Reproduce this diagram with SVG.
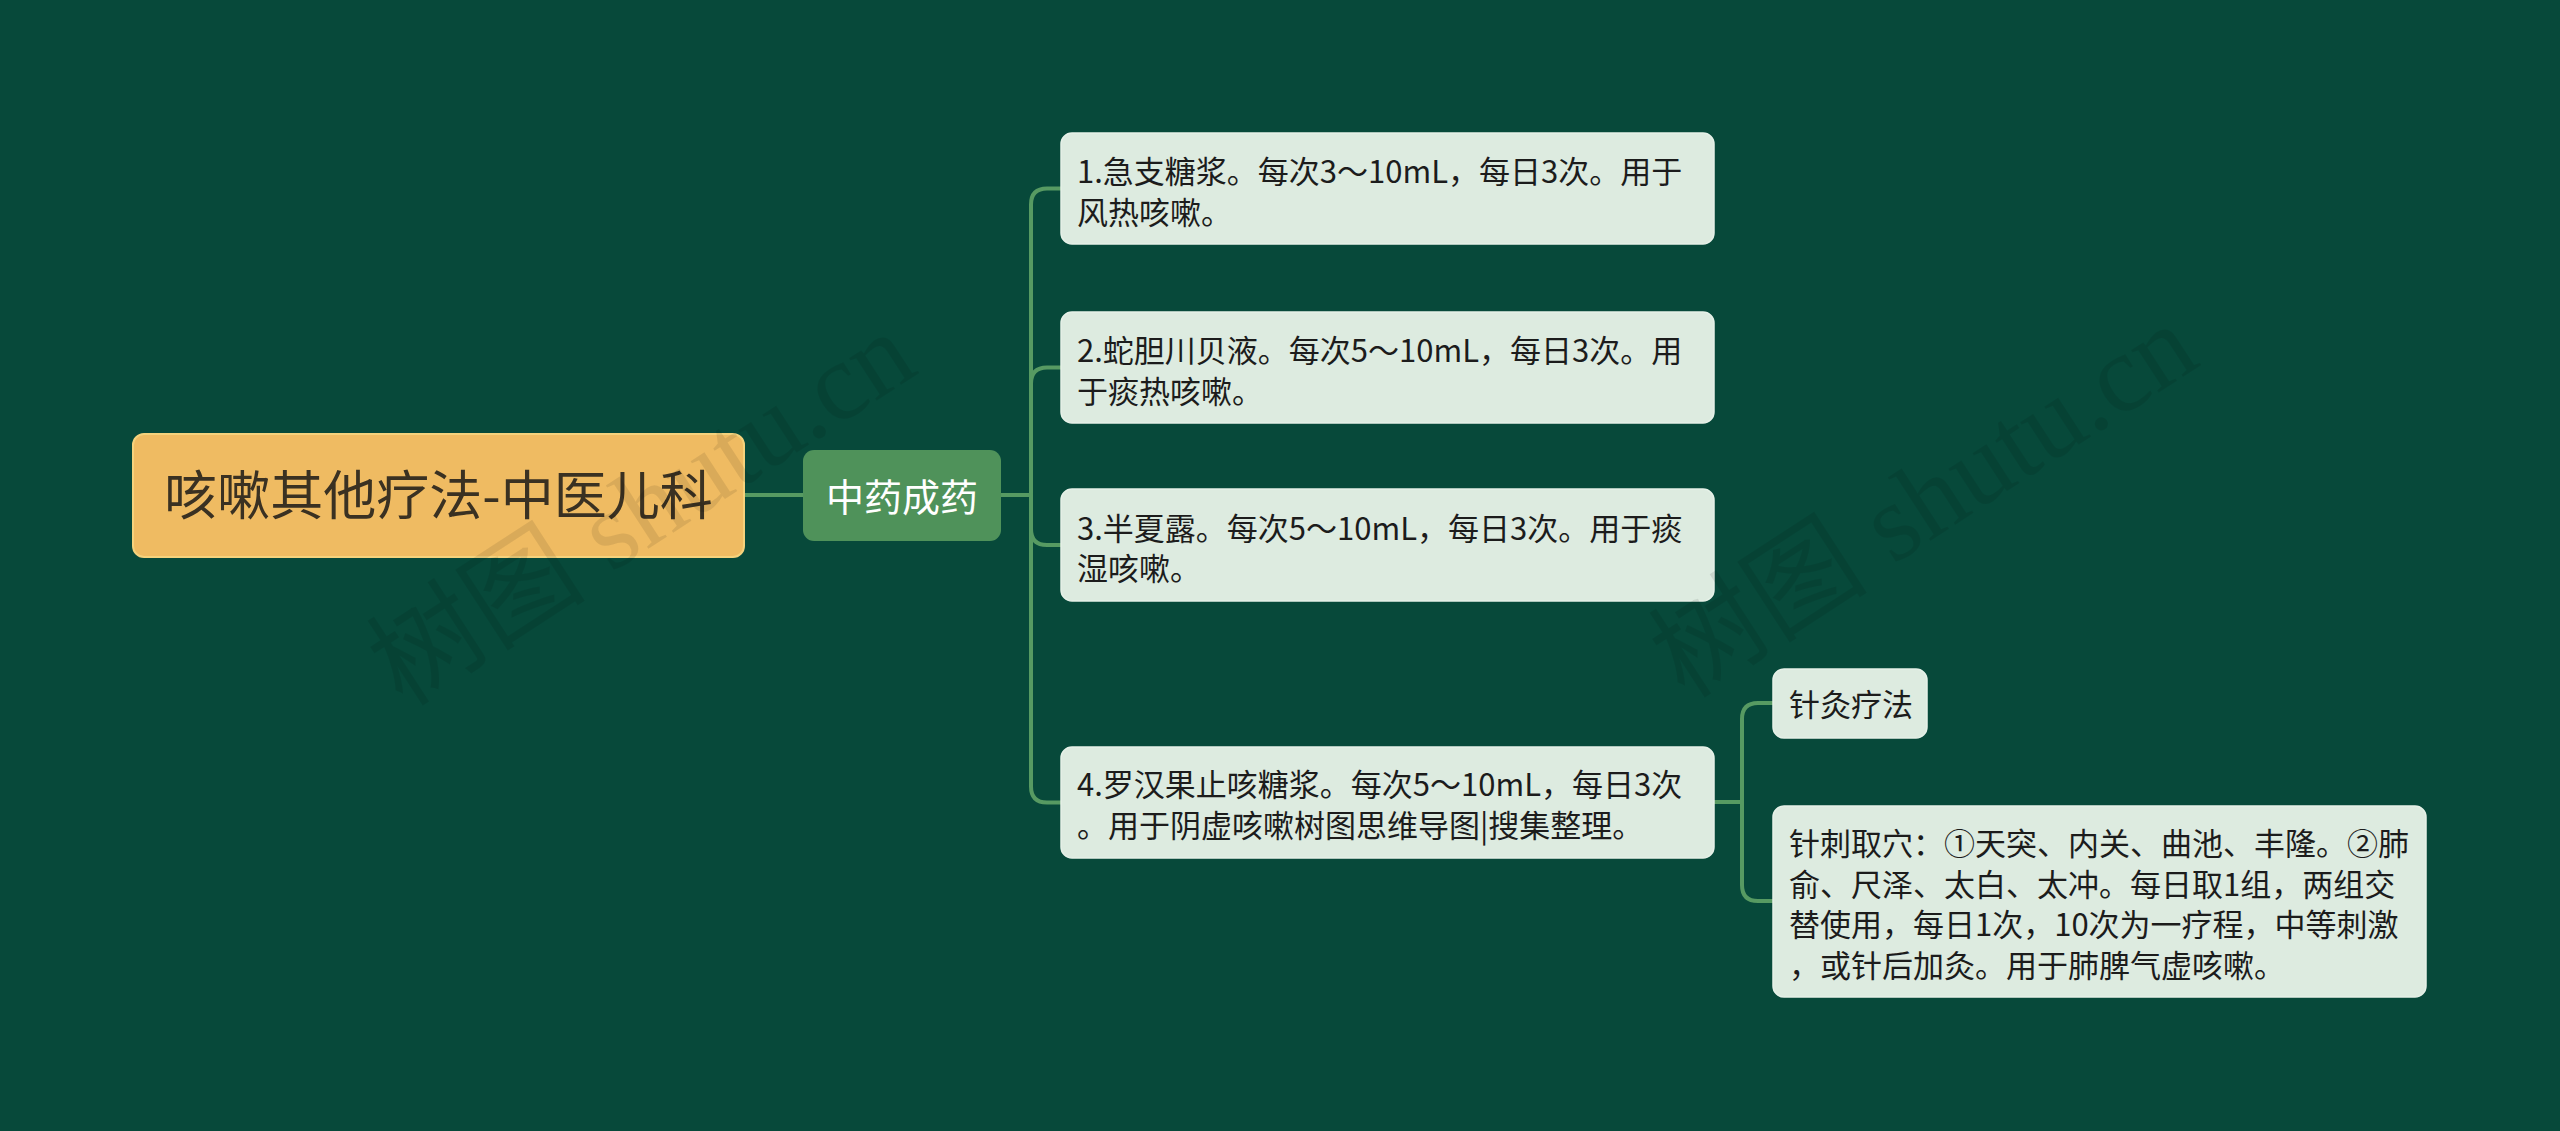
<svg xmlns="http://www.w3.org/2000/svg" width="2560" height="1131" viewBox="0 0 2560 1131">
<style>
.bg{fill:#07493A}
.conn{fill:none;stroke:#579A62;stroke-width:4;stroke-linecap:round;stroke-linejoin:round}
.leaf{fill:#DDEBE0;stroke:#E6F1E8;stroke-width:1.5}
.lt{font-family:"Noto Sans CJK SC","Noto Sans",sans-serif;font-size:31px;fill:#1C1C1C}
.root{fill:#EFBB62;stroke:#F5D27C;stroke-width:2}
.rt{font-family:"Noto Sans CJK SC","Noto Sans",sans-serif;font-size:53px;fill:#3A3122}
.mid{fill:#4F925A}
.mt{font-family:"Noto Sans CJK SC","Noto Sans",sans-serif;font-size:38px;fill:#FFFFFF}
.wm{font-family:"Liberation Serif","Noto Sans CJK SC",serif;font-size:110px;fill:#000000;fill-opacity:0.09}
</style>
<rect class="bg" x="0" y="0" width="2560" height="1131"/>
<g id="connectors">
<path class="conn" d="M744,495 H803"/>
<path class="conn" d="M1001,495 H1031 V204.5 Q1031,188.5 1047,188.5 H1061"/>
<path class="conn" d="M1001,495 H1031 V383.5 Q1031,367.5 1047,367.5 H1061"/>
<path class="conn" d="M1001,495 H1031 V529 Q1031,545 1047,545 H1061"/>
<path class="conn" d="M1001,495 H1031 V786.5 Q1031,802.5 1047,802.5 H1061"/>
<path class="conn" d="M1714,802 H1742 V719 Q1742,703 1758,703 H1773"/>
<path class="conn" d="M1714,802 H1742 V885 Q1742,901 1758,901 H1773"/>
</g>
<g id="root">
<rect class="root" x="133" y="434" width="611" height="123" rx="11"/>
<text class="rt" x="438.5" y="515" text-anchor="middle">咳嗽其他疗法-中医儿科</text>
</g>
<g id="n-zhongyao">
<rect class="mid" x="803" y="450" width="198" height="91" rx="11"/>
<text class="mt" x="902" y="511" text-anchor="middle">中药成药</text>
</g>
<g id="n1">
<rect class="leaf" x="1061" y="133" width="653" height="111" rx="11"/>
<text class="lt" x="1077" y="183">1.急支糖浆。每次3～10mL，每日3次。用于</text>
<text class="lt" x="1077" y="224">风热咳嗽。</text>
</g>
<g id="n2">
<rect class="leaf" x="1061" y="312" width="653" height="111" rx="11"/>
<text class="lt" x="1077" y="362">2.蛇胆川贝液。每次5～10mL，每日3次。用</text>
<text class="lt" x="1077" y="403">于痰热咳嗽。</text>
</g>
<g id="n3">
<rect class="leaf" x="1061" y="489" width="653" height="112" rx="11"/>
<text class="lt" x="1077" y="540">3.半夏露。每次5～10mL，每日3次。用于痰</text>
<text class="lt" x="1077" y="580">湿咳嗽。</text>
</g>
<g id="n4">
<rect class="leaf" x="1061" y="747" width="653" height="111" rx="11"/>
<text class="lt" x="1077" y="796">4.罗汉果止咳糖浆。每次5～10mL，每日3次</text>
<text class="lt" x="1077" y="837">。用于阴虚咳嗽树图思维导图|搜集整理。</text>
</g>
<g id="n4-1">
<rect class="leaf" x="1773" y="669" width="154" height="69" rx="11"/>
<text class="lt" x="1789" y="716">针灸疗法</text>
</g>
<g id="n4-2">
<rect class="leaf" x="1773" y="806" width="653" height="191" rx="11"/>
<text class="lt" x="1789" y="855">针刺取穴：①天突、内关、曲池、丰隆。②肺</text>
<text class="lt" x="1789" y="896">俞、尺泽、太白、太冲。每日取1组，两组交</text>
<text class="lt" x="1789" y="936">替使用，每日1次，10次为一疗程，中等刺激</text>
<text class="lt" x="1789" y="977">，或针后加灸。用于肺脾气虚咳嗽。</text>
</g>
<g id="watermark">
<text class="wm" x="645" y="545" text-anchor="middle" transform="rotate(-33 645 514)">树图 shutu.cn</text>
<text class="wm" x="1927" y="537" text-anchor="middle" transform="rotate(-33 1927 506)">树图 shutu.cn</text>
</g>
</svg>
